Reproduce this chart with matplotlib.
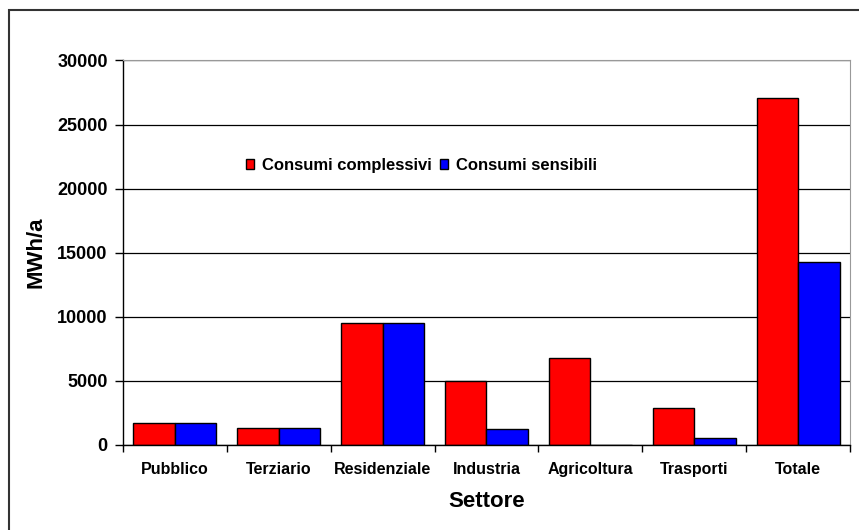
import matplotlib
matplotlib.use("Agg")
import matplotlib.pyplot as plt
import numpy as np
from matplotlib.patches import Rectangle

plt.rcParams['font.family'] = ['Liberation Sans', 'DejaVu Sans']
plt.rcParams['font.weight'] = 'bold'

# --- data ---
sectors = ['Pubblico', 'Terziario', 'Residenziale', 'Industria',
           'Agricoltura', 'Trasporti', 'Totale']
consumi_complessivi = [1700, 1350, 9530, 5000, 6750, 2910, 27100]
consumi_sensibili = [1700, 1350, 9530, 1250, 0, 570, 14300]
y_ticks = [0, 5000, 10000, 15000, 20000, 25000, 30000]

RED = '#FF0000'
BLUE = '#0000FF'

fig = plt.figure(figsize=(8.59, 5.30), dpi=100)
ax = fig.add_axes([0.1432, 0.1604, 0.8463, 0.7255])

x = np.arange(len(sectors))
w = 0.4
ax.bar(x - w / 2, consumi_complessivi, width=w, color=RED, edgecolor='black',
       linewidth=1.0, label='Consumi complessivi', zorder=3)
ax.bar(x + w / 2, consumi_sensibili, width=w, color=BLUE, edgecolor='black',
       linewidth=1.0, label='Consumi sensibili', zorder=3)

ax.set_xlim(-0.5, len(sectors) - 0.5)
ax.set_ylim(0, 30000)
ax.set_yticks(y_ticks)
ax.yaxis.grid(True, color='black', linewidth=0.9, zorder=0)

# category ticks sit between groups
ax.set_xticks(np.arange(len(sectors) + 1) - 0.5)
ax.set_xticklabels([])
ax.set_xticks(x, minor=True)
ax.set_xticklabels(sectors, minor=True, fontsize=11.5, fontweight='bold')
ax.tick_params(axis='x', which='minor', length=0, pad=12)
ax.tick_params(axis='x', which='major', length=5, width=1, direction='out')
ax.tick_params(axis='y', length=6, width=1, direction='out', labelsize=13, pad=5)

ax.set_xlabel('Settore', fontsize=16, fontweight='bold', labelpad=10)
ax.set_ylabel('MWh/a', fontsize=16, fontweight='bold', labelpad=8)

for side in ['top', 'right']:
    ax.spines[side].set_color('#999999')
for side in ['left', 'bottom']:
    ax.spines[side].set_color('black')
    ax.spines[side].set_linewidth(1.0)
ax.spines['bottom'].set_zorder(4)

ax.legend(loc='center left', bbox_to_anchor=(0.169, 0.727), ncol=2,
          frameon=False, prop={'weight': 'bold', 'size': 12},
          handlelength=0.5, handleheight=0.5, handletextpad=0.45,
          columnspacing=0.5, borderpad=0, borderaxespad=0)

# outer chart frame (cut off at the right and bottom)
fig.patches.append(Rectangle((9 / 859, -0.1), 1.2, 0.1 + 520 / 530,
                             transform=fig.transFigure, fill=False,
                             edgecolor='#333333', linewidth=1.5))

fig.savefig('out.png', dpi=100)
